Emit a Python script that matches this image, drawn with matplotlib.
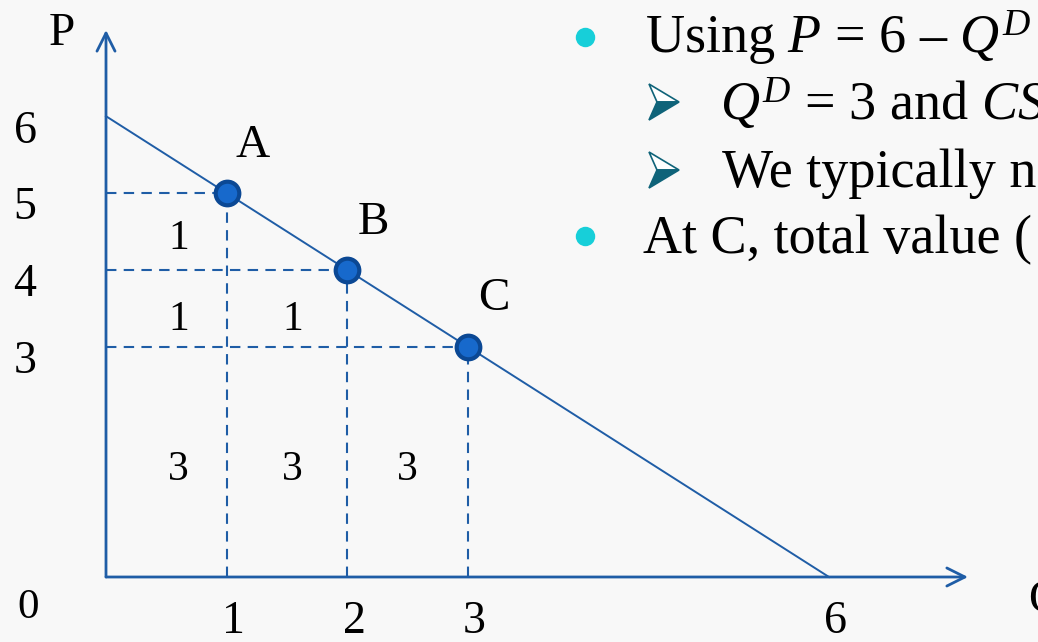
import numpy as np
import matplotlib.pyplot as plt
from matplotlib.lines import Line2D
from matplotlib.patches import Polygon

plt.rcParams['font.family'] = ['Liberation Serif', 'DejaVu Serif']
plt.rcParams['mathtext.fontset'] = 'custom'
plt.rcParams['mathtext.rm'] = 'Liberation Serif'
plt.rcParams['mathtext.it'] = 'Liberation Serif:italic'

# demand curve P = 6 - Q
demand_q = [0, 6]
demand_p = [6, 0]

# points on the curve
point_names = ['A', 'B', 'C']
point_q = [1, 2, 3]
point_p = [5, 4, 3]

# numbers written inside the blocks under the curve
block_q = [0.6, 0.6, 1.55, 0.6, 1.55, 2.5]
block_p = [4.4, 3.35, 3.35, 1.4, 1.4, 1.4]
block_text = ['1', '1', '1', '3', '3', '3']

xtick_vals = [1, 2, 3, 6]
ytick_vals = [6, 5, 4, 3]

blue = '#1f5da6'
bg = '#f8f8f8'

W, H = 1038, 642
fig = plt.figure(figsize=(W / 100, H / 100), dpi=100, facecolor=bg)
ax = fig.add_axes([0, 0, 1, 1])
ax.set_facecolor(bg)
ax.axis('off')

# pixel scale of one unit on each axis, origin at (106, 577)
ux, uy = 120.5, 76.8
ox, oy = 106, 577
ax.set_xlim(-ox / ux, (W - ox) / ux)
ax.set_ylim(-(H - oy) / uy, oy / uy)

# axes with open arrowheads
arrow = dict(arrowstyle='->,head_length=1.3,head_width=0.65', color=blue, lw=2,
             shrinkA=0, shrinkB=0)
ax.annotate('', xy=(0, (oy - 30) / uy), xytext=(0, 0), arrowprops=arrow)
ax.annotate('', xy=((968 - ox) / ux, 0), xytext=(0, 0), arrowprops=arrow)
ax.text(-0.37, (oy - 45) / uy, 'P', fontsize=34, ha='center', va='baseline')
ax.text((1045 - ox) / ux, (oy - 612) / uy, 'Q', fontsize=34, ha='center', va='baseline')

# demand line
ax.plot(demand_q, demand_p, color=blue, lw=1.4, zorder=2)

# dashed guides to each point
for q, p in zip(point_q, point_p):
    ax.plot([0, q], [p, p], color=blue, lw=1.5, ls=(0, (5, 3.5)), zorder=1)
    ax.plot([q, q], [0, p], color=blue, lw=1.5, ls=(0, (5, 3.5)), zorder=1)

ax.plot(point_q, point_p, 'o', ms=17, mfc='#1769cc', mec='#0b4894', mew=3, zorder=3)
for name, q, p in zip(point_names, point_q, point_p):
    ax.annotate(name, (q, p), xytext=(19, 26), textcoords='offset points',
                fontsize=34, ha='center', va='baseline')

for q, p, t in zip(block_q, block_p, block_text):
    ax.text(q, p, t, fontsize=30, ha='center', va='center')

# tick labels
for v in ytick_vals:
    ax.annotate(str(v), (-(ox - 25) / ux, v), xytext=(0, -19), textcoords='offset points',
                fontsize=33, ha='center', va='baseline')
for v in xtick_vals:
    ax.annotate(str(v), (v, -(633 - oy) / uy), xytext=(5, 0), textcoords='offset points',
                fontsize=33, ha='center', va='baseline')
ax.text(-(ox - 28) / ux, -(618 - oy) / uy, '0', fontsize=31, ha='center', va='baseline')


# slide text on the right
def fxy(px, py):
    return px / W, 1 - py / H


for py in [37, 236]:
    x, y = fxy(585, py)
    fig.add_artist(Line2D([x], [y], marker='o', ms=14, color='#17cfd9',
                          mec='none', transform=fig.transFigure))

# sub-bullet arrowheads: outlined upper half, filled lower half
teal = '#0f6379'
for cy in [102, 170]:
    upper = [fxy(649, cy - 18), fxy(679, cy), fxy(657, cy)]
    lower = [fxy(657, cy), fxy(679, cy), fxy(649, cy + 18)]
    fig.add_artist(Polygon(upper, closed=True, fc='white', ec=teal, lw=1.2,
                           transform=fig.transFigure))
    fig.add_artist(Polygon(lower, closed=True, fc=teal, ec=teal, lw=1.2,
                           transform=fig.transFigure))

fs = 39
fig.text(*fxy(645, 53), r'Using $\mathit{P}$ = $\mathit{6}$ – $\mathit{Q}^{\mathit{D}}$',
         fontsize=fs, ha='left', va='baseline')
fig.text(*fxy(720, 120), r'$\mathit{Q}^{\mathit{D}}$ = 3 and $\mathit{CS}$',
         fontsize=fs, ha='left', va='baseline')
fig.text(*fxy(722, 187), 'We typically n', fontsize=fs, ha='left', va='baseline')
fig.text(*fxy(643, 253), 'At C, total value (', fontsize=fs, ha='left', va='baseline')

fig.savefig('out.png', dpi=100, facecolor=bg)
